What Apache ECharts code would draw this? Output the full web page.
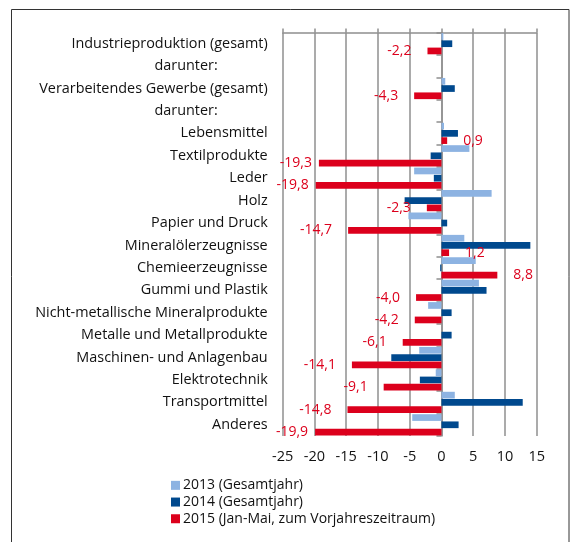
<!DOCTYPE html>
<html>
<head>
<meta charset="utf-8">
<script src="https://cdn.jsdelivr.net/npm/echarts@6/dist/echarts.min.js"></script>
<style>
  html, body { margin: 0; padding: 0; background: #fff; }
  #chart { width: 571px; height: 542px; }
</style>
</head>
<body>
<div id="chart"></div>
<script>
// Branchen (top to bottom)
const categories = [
  'Industrieproduktion (gesamt)', 'darunter:', 'Verarbeitendes Gewerbe (gesamt)', 'darunter:',
  'Lebensmittel', 'Textilprodukte', 'Leder', 'Holz', 'Papier und Druck',
  'Mineralölerzeugnisse', 'Chemieerzeugnisse', 'Gummi und Plastik',
  'Nicht-metallische Mineralprodukte', 'Metalle und Metallprodukte',
  'Maschinen- und Anlagenbau', 'Elektrotechnik', 'Transportmittel', 'Anderes'
];
const seriesNames = ['2013 (Gesamtjahr)', '2014 (Gesamtjahr)', '2015 (Jan-Mai, zum Vorjahreszeitraum)'];
// Veränderung in %
const values2013 = [0.3, null, 0.6, null, 0.4, 4.4, -4.3, 7.9, -5.2, 3.6, 5.4, 5.9, -2.1, null, -3.5, -0.9, 2.1, -4.6];
const values2014 = [1.7, null, 2.1, null, 2.6, -1.7, -1.2, -5.8, 0.9, 14.0, -0.2, 7.1, 1.6, 1.6, -7.9, -3.4, 12.8, 2.7];
const values2015 = [-2.2, null, -4.3, null, 0.9, -19.3, -19.8, -2.3, -14.7, 1.2, 8.8, -4.0, -4.2, -6.1, -14.1, -9.1, -14.8, -19.9];
const axisMin = -25, axisMax = 15, axisStep = 5;

const FONT = 'Open Sans';
const TEXT = '#111';
const GRID = '#8f8f8f';
const colors = ['#8db3e2', '#00498e', '#dc001c'];

const chart = echarts.init(document.getElementById('chart'), null, { renderer: 'canvas' });

const fmt = v => v.toFixed(1).replace('.', ',');

const labelled = values2015.map(v => v == null ? null : {
  value: v,
  label: {
    position: v < 0 ? 'left' : 'right',
    distance: v < -19 ? 7 : 16
  }
});

const barBase = { type: 'bar', barWidth: 6.7, barGap: '8%', xAxisIndex: 0, yAxisIndex: 0 };

chart.setOption({
  animation: false,
  textStyle: { fontFamily: FONT },
  graphic: [{
    type: 'rect',
    shape: { x: 11.5, y: 9.5, width: 557.5, height: 560 },
    style: { fill: 'none', stroke: '#333', lineWidth: 1 },
    silent: true
  }],
  grid: { left: 282.7, right: 34.3, top: 32.5, bottom: 106 },
  legend: {
    orient: 'vertical',
    left: 166, top: 472,
    itemWidth: 9, itemHeight: 9, itemGap: 0,
    icon: 'rect',
    textStyle: { fontFamily: FONT, fontSize: 14, lineHeight: 16.7, color: TEXT, padding: [0, 0, 0, -2] },
    data: seriesNames
  },
  xAxis: [{
    type: 'value', position: 'top', min: axisMin, max: axisMax, interval: axisStep,
    axisLine: { show: true, onZero: false, lineStyle: { color: GRID, width: 1.5 } },
    axisTick: { show: true, length: 4, lineStyle: { color: GRID, width: 1.5 } },
    axisLabel: { show: false },
    splitLine: { show: true, lineStyle: { color: GRID, width: 1.5 } }
  }, {
    type: 'value', position: 'bottom', min: axisMin, max: axisMax, interval: axisStep,
    axisLine: { show: false }, axisTick: { show: false }, splitLine: { show: false },
    axisLabel: { fontFamily: FONT, fontSize: 14.5, color: TEXT, margin: 13 }
  }],
  yAxis: [{
    type: 'category', data: categories, inverse: true, position: 'left',
    axisLine: { show: false, onZero: false }, axisTick: { show: false },
    axisLabel: {
      fontFamily: FONT, fontSize: 14.4, color: TEXT, margin: 15,
      formatter: v => v === 'darunter:' ? '{sub|' + v + '}' : v,
      rich: { sub: { fontFamily: FONT, fontSize: 14.4, color: TEXT, padding: [0, 50, 0, 0] } }
    }
  }, {
    type: 'category', data: categories, inverse: true, position: 'left',
    axisLine: { show: true, onZero: true, lineStyle: { color: GRID, width: 1.5 } },
    axisTick: { show: true, length: 5, lineStyle: { color: GRID, width: 1.5 } },
    axisLabel: { show: false },
    splitLine: { show: false }
  }],
  series: [
    Object.assign({}, barBase, { name: seriesNames[0], data: values2013, itemStyle: { color: colors[0] } }),
    Object.assign({}, barBase, { name: seriesNames[1], data: values2014, itemStyle: { color: colors[1] } }),
    Object.assign({}, barBase, {
      name: seriesNames[2], data: labelled, itemStyle: { color: colors[2] },
      label: {
        show: true, fontFamily: FONT, fontSize: 14, color: colors[2],
        formatter: p => fmt(p.value)
      }
    })
  ]
});
</script>
</body>
</html>
